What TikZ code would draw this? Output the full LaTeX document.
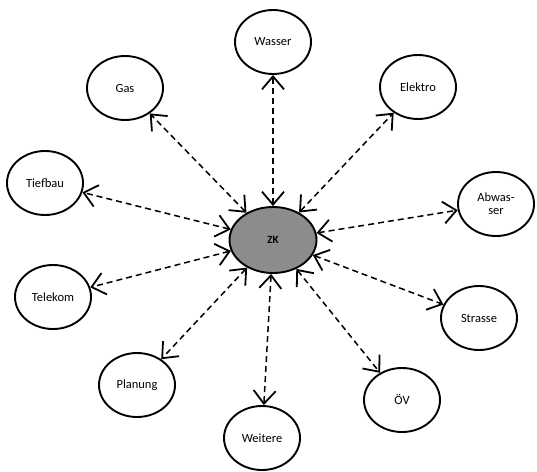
\documentclass[tikz,border=0pt]{standalone}
\usepackage{fontspec}
\setmainfont{Carlito}
\usetikzlibrary{arrows.meta,shapes.geometric}
\begin{document}
\begin{tikzpicture}[x=1pt,y=-1pt,
	amt/.style={ellipse, draw, line width=1.9pt, minimum width=76pt, minimum height=64pt, inner sep=0pt, font=\fontsize{12.5}{13}\selectfont, align=center},
	kern/.style={amt, minimum width=87pt, minimum height=66pt, fill=black!45},
	link/.style={dash pattern=on 6pt off 4pt, line width=1.5pt, {Straight Barb[length=13pt,width=22pt,line width=1.8pt]}-{Straight Barb[length=13pt,width=22pt,line width=1.8pt]}}]

	\useasboundingbox (0,0) rectangle (537,471);

	%centre
	\node[kern] (zk) at (273,240) {\fontsize{11}{12}\selectfont\bfseries ZK};

	%outer ring
	\node[amt] (wasser) at (273,42) {Wasser};
	\node[amt] (elektro) at (418,87) {Elektro};
	\node[amt] (abwasser) at (496,204) {Abwas-\\ser};
	\node[amt] (strasse) at (479,318) {Strasse};
	\node[amt] (oev) at (402,400) {ÖV};
	\node[amt] (weitere) at (262,438) {Weitere};
	\node[amt] (planung) at (137,385) {Planung};
	\node[amt] (telekom) at (53,297) {Telekom};
	\node[amt] (tiefbau) at (45,183) {Tiefbau};
	\node[amt] (gas) at (125,88) {Gas};

	%connections
	\foreach \n in {wasser,elektro,abwasser,strasse,oev,weitere,planung,telekom,tiefbau,gas}
		\draw[link] (zk) -- (\n);

\end{tikzpicture}
\end{document}
